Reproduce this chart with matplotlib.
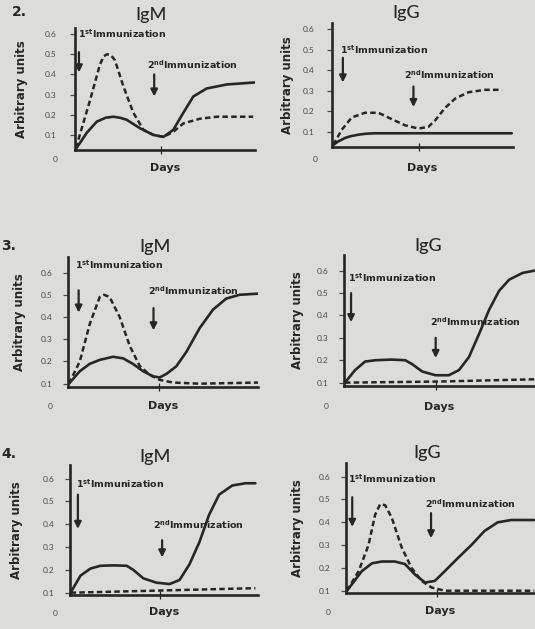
import matplotlib.pyplot as plt

# values; x is "days" on an arbitrary 0-10 scale
# ---- question 2 ----
q2_igm_dash_x = [0.05, 0.83, 1.39, 1.6, 1.78, 2.0, 2.22, 2.69, 3.24, 3.80, 4.35, 4.91, 5.46, 6.02, 6.94, 7.87, 9.9]
q2_igm_dash_y = [0.035, 0.27, 0.45, 0.49, 0.50, 0.495, 0.47, 0.34, 0.21, 0.125, 0.10, 0.09, 0.115, 0.157, 0.18, 0.19, 0.19]
q2_igm_solid_x = [0.05, 0.65, 1.2, 1.7, 2.13, 2.5, 2.87, 3.61, 4.35, 4.91, 5.46, 6.02, 6.57, 7.31, 8.43, 10.0]
q2_igm_solid_y = [0.03, 0.11, 0.165, 0.185, 0.19, 0.185, 0.175, 0.133, 0.10, 0.09, 0.125, 0.21, 0.29, 0.33, 0.35, 0.36]

q2_igg_dash_x = [0.07, 0.53, 1.09, 1.82, 2.56, 3.3, 4.03, 4.77, 5.32, 5.69, 6.24, 6.8, 7.53, 8.45, 9.38]
q2_igg_dash_y = [0.035, 0.108, 0.169, 0.192, 0.192, 0.161, 0.131, 0.115, 0.123, 0.154, 0.215, 0.261, 0.292, 0.304, 0.304]
q2_igg_solid_x = [0.07, 0.3, 0.72, 1.0, 1.45, 1.9, 2.38, 9.93]
q2_igg_solid_y = [0.035, 0.05, 0.069, 0.077, 0.085, 0.09, 0.092, 0.092]

# ---- question 3 ----
q3_igm_dash_x = [0.05, 0.62, 1.14, 1.67, 1.9, 2.19, 2.72, 3.25, 3.77, 4.3, 4.83, 5.53, 6.93, 10.0]
q3_igm_dash_y = [0.10, 0.20, 0.367, 0.49, 0.50, 0.49, 0.40, 0.27, 0.18, 0.14, 0.117, 0.105, 0.10, 0.105]
q3_igm_solid_x = [0.05, 0.62, 1.14, 1.67, 2.37, 2.9, 3.42, 3.95, 4.48, 4.83, 5.18, 5.7, 6.23, 6.93, 7.63, 8.33, 9.03, 10.0]
q3_igm_solid_y = [0.10, 0.156, 0.189, 0.207, 0.221, 0.214, 0.189, 0.156, 0.133, 0.128, 0.144, 0.178, 0.243, 0.35, 0.433, 0.483, 0.50, 0.505]

q3_igg_dash_x = [0.05, 5.0, 10.0]
q3_igg_dash_y = [0.10, 0.105, 0.115]
q3_igg_solid_x = [0.05, 0.58, 1.1, 1.63, 2.5, 3.21, 3.56, 4.09, 4.79, 5.49, 6.02, 6.54, 7.07, 7.6, 8.12, 8.65, 9.35, 9.96]
q3_igg_solid_y = [0.10, 0.156, 0.194, 0.20, 0.203, 0.20, 0.183, 0.15, 0.133, 0.133, 0.156, 0.214, 0.317, 0.426, 0.51, 0.56, 0.59, 0.60]

# ---- question 4 ----
q4_igm_dash_x = [0.03, 5.0, 9.86]
q4_igm_dash_y = [0.10, 0.11, 0.12]
q4_igm_solid_x = [0.03, 0.56, 1.09, 1.61, 2.32, 3.02, 3.37, 3.9, 4.6, 5.3, 5.83, 6.35, 6.88, 7.4, 7.93, 8.63, 9.33, 9.86]
q4_igm_solid_y = [0.10, 0.175, 0.206, 0.218, 0.22, 0.218, 0.20, 0.163, 0.144, 0.138, 0.156, 0.224, 0.321, 0.442, 0.53, 0.57, 0.58, 0.58]

q4_igg_dash_x = [0.05, 0.67, 1.19, 1.54, 1.81, 2.07, 2.42, 2.95, 3.47, 4.0, 4.53, 5.23, 9.96]
q4_igg_dash_y = [0.10, 0.186, 0.30, 0.433, 0.48, 0.475, 0.42, 0.289, 0.20, 0.143, 0.114, 0.10, 0.10]
q4_igg_solid_x = [0.05, 0.84, 1.37, 1.89, 2.59, 3.12, 3.65, 4.18, 4.7, 5.23, 5.93, 6.63, 7.33, 8.03, 8.74, 9.96]
q4_igg_solid_y = [0.10, 0.186, 0.22, 0.228, 0.228, 0.217, 0.171, 0.136, 0.143, 0.186, 0.244, 0.30, 0.362, 0.40, 0.41, 0.41]

y_ticks = [0.1, 0.2, 0.3, 0.4, 0.5, 0.6]
first_label = r'1$^{\mathbf{st}}$Immunization'
second_label = r'2$^{\mathbf{nd}}$Immunization'

plt.rcParams['font.family'] = ['Lato', 'DejaVu Sans']
plt.rcParams['mathtext.fontset'] = 'dejavusans'

ink = '#262626'
paper = '#dcdcda'
heavy = 'DejaVu Sans'
W, H = 535, 629

fig = plt.figure(figsize=(W / 100, H / 100), dpi=100, facecolor=paper)

# box = (left, right, top, bottom) in pixels
panels = [
    dict(box=(75, 255, 28, 150), title='IgM', ylim=(0.025, 0.63),
         solid=(q2_igm_solid_x, q2_igm_solid_y), dash=(q2_igm_dash_x, q2_igm_dash_y),
         arrows=[(0.22, 0.51, 0.41), (4.4, 0.40, 0.29)], notes=[(0.17, 0.60), (4.0, 0.45)],
         title_x=0.42, title_dy=13, zero=(-14, -7), days_dy=-13, ylab_px=54, pad=10),
    dict(box=(332, 513, 23, 147), title='IgG', ylim=(0.025, 0.63),
         solid=(q2_igg_solid_x, q2_igg_solid_y), dash=(q2_igg_dash_x, q2_igg_dash_y),
         arrows=[(0.6, 0.46, 0.34), (4.5, 0.32, 0.22)], notes=[(0.44, 0.50), (4.0, 0.38)],
         title_x=0.41, title_dy=10, zero=(-12, -9), days_dy=-15, ylab_px=45, pad=9),
    dict(box=(68, 258, 257, 387), title='IgM', ylim=(0.085, 0.67),
         solid=(q3_igm_solid_x, q3_igm_solid_y), dash=(q3_igm_dash_x, q3_igm_dash_y),
         arrows=[(0.56, 0.52, 0.42), (4.5, 0.44, 0.34)], notes=[(0.35, 0.635), (4.2, 0.52)],
         title_x=0.46, title_dy=10, zero=(-13, -14), days_dy=-14, ylab_px=48, pad=7.5),
    dict(box=(344, 535, 255, 386), title='IgG', ylim=(0.085, 0.67),
         solid=(q3_igg_solid_x, q3_igg_solid_y), dash=(q3_igg_dash_x, q3_igg_dash_y),
         arrows=[(0.37, 0.50, 0.37), (4.8, 0.30, 0.21)], notes=[(0.21, 0.57), (4.5, 0.37)],
         title_x=0.44, title_dy=9, zero=(-13, -15), days_dy=-15, ylab_px=47, pad=8),
    dict(box=(70, 258, 465, 595), title='IgM', ylim=(0.09, 0.66),
         solid=(q4_igm_solid_x, q4_igm_solid_y), dash=(q4_igm_dash_x, q4_igm_dash_y),
         arrows=[(0.42, 0.53, 0.38), (4.9, 0.33, 0.255)], notes=[(0.3, 0.58), (4.4, 0.40)],
         title_x=0.45, title_dy=8, zero=(-11, -13), days_dy=-12, ylab_px=53, pad=8),
    dict(box=(346, 535, 463, 593), title='IgG', ylim=(0.09, 0.66),
         solid=(q4_igg_solid_x, q4_igg_solid_y), dash=(q4_igg_dash_x, q4_igg_dash_y),
         arrows=[(0.33, 0.51, 0.38), (4.5, 0.44, 0.33)], notes=[(0.12, 0.59), (4.2, 0.48)],
         title_x=0.43, title_dy=10, zero=(-13, -14), days_dy=-13, ylab_px=48, pad=8),
]

for p in panels:
    l, r, t, b = p['box']
    ax = fig.add_axes([l / W, 1 - b / H, (r - l) / W, (b - t) / H])
    ax.set_facecolor('none')
    ax.set_xlim(0, 10)
    ax.set_ylim(*p['ylim'])

    ax.plot(*p['solid'], color=ink, lw=1.9, solid_capstyle='round')
    ax.plot(*p['dash'], color=ink, lw=1.8, linestyle=(0, (2.2, 1.3)))

    for spine in ['top', 'right']:
        ax.spines[spine].set_visible(False)
    for spine in ['left', 'bottom']:
        ax.spines[spine].set_linewidth(1.9)
        ax.spines[spine].set_color(ink)

    ax.set_yticks(y_ticks)
    ax.set_yticklabels([f'{v:.1f}' for v in y_ticks])
    ax.tick_params(axis='y', length=3.5, width=0.9, pad=p['pad'], labelsize=6,
                   colors='#4a4a4a')
    ax.set_xticks([4.8])
    ax.set_xticklabels([])
    ax.tick_params(axis='x', direction='inout', length=6, width=0.9, color=ink)

    for x, y0, y1 in p['arrows']:
        ax.annotate('', xy=(x, y1), xytext=(x, y0),
                    arrowprops=dict(arrowstyle='-|>', color=ink, lw=1.6,
                                    mutation_scale=10, shrinkA=0, shrinkB=0))
    for (x, y), label in zip(p['notes'], [first_label, second_label]):
        ax.text(x, y, label, fontsize=6.8, fontweight='bold', color=ink,
                family=heavy, ha='left', va='center')

    ax.annotate(p['title'], xy=(p['title_x'], 1), xycoords='axes fraction',
                xytext=(0, p['title_dy'] * 0.72), textcoords='offset points',
                ha='center', va='center', fontsize=13, fontweight='medium', color=ink)
    ax.annotate('0', xy=(0, 0), xycoords='axes fraction', xytext=p['zero'],
                textcoords='offset points', ha='center', va='center',
                fontsize=6, color='#4a4a4a')
    ax.annotate('Days', xy=(0.5, 0), xycoords='axes fraction',
                xytext=(0, p['days_dy']), textcoords='offset points',
                ha='center', va='center', fontsize=8, fontweight='bold',
                family=heavy, color=ink)
    ax.text(-p['ylab_px'] / (r - l), 0.5, 'Arbitrary units', transform=ax.transAxes,
            rotation=90, ha='center', va='center', fontsize=8.5,
            fontweight='bold', family=heavy, color=ink)

for label, x, y in [('2.', 12, 12), ('3.', 1, 246), ('4.', 1, 454)]:
    fig.text(x / W, 1 - y / H, label, fontsize=10, fontweight='bold', color=ink,
             family=heavy, ha='left', va='center')

fig.savefig('out.png', dpi=100, facecolor=paper)
